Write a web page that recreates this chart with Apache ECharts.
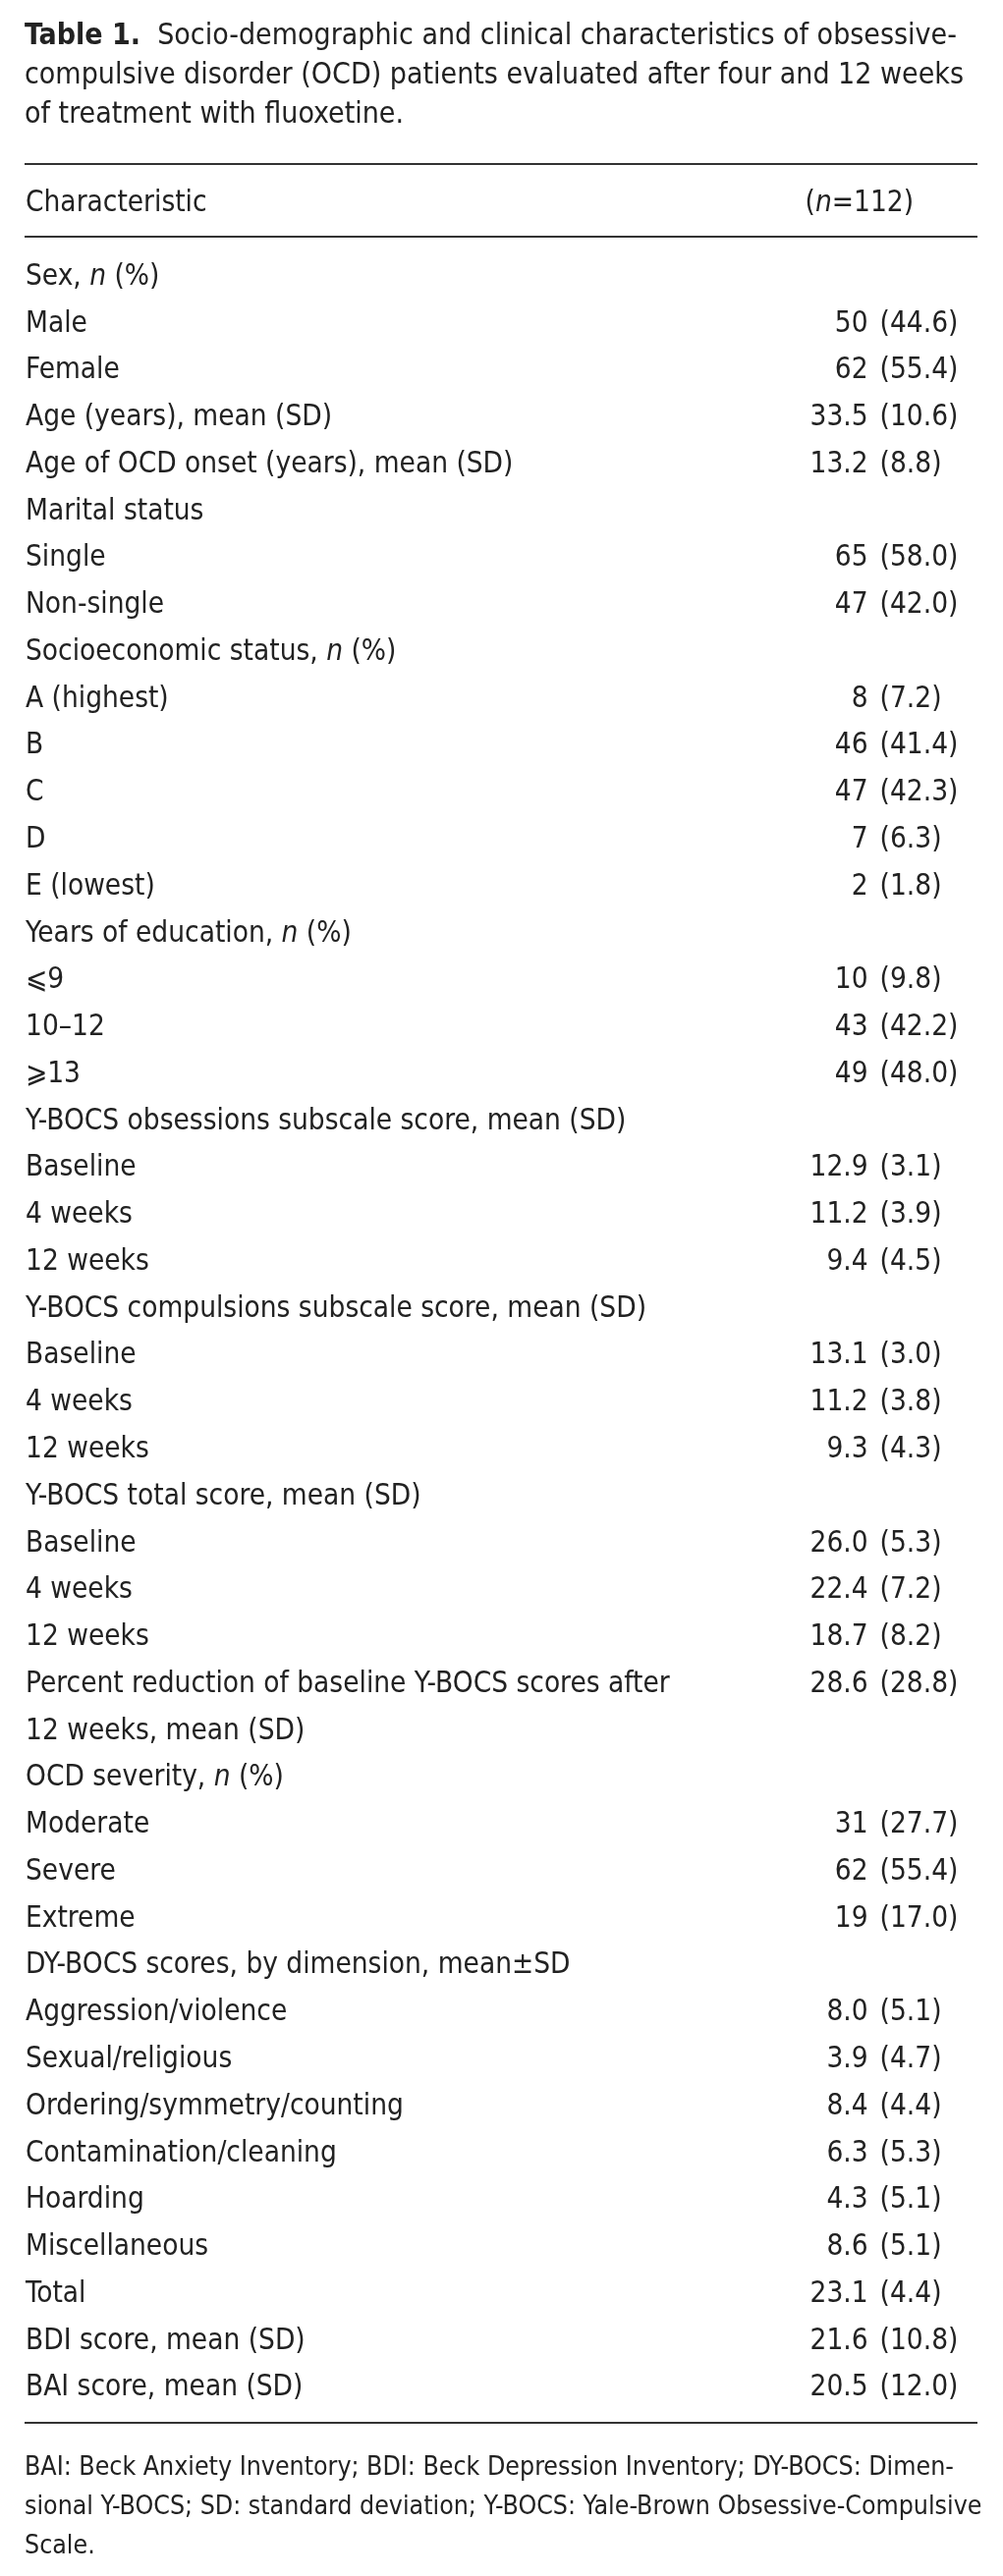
<!DOCTYPE html>
<html>
	<head>
		<meta charset="UTF-8">
		<title>Table 1 - OCD patients</title>
		<!-- echarts -->
		<script src="https://cdn.jsdelivr.net/npm/echarts@6/dist/echarts.min.js"></script>
		<style>
			html, body { margin: 0; padding: 0; background: #fff; }
			#main { width: 1021px; height: 2623px; }
		</style>
	</head>
	<body>
		<div id="main"></div>
	</body>
<script>
	// 表格行（每一行文字一个类目）
	var rowLabels = [
		'Sex, n (%)', 'Male', 'Female', 'Age (years), mean (SD)', 'Age of OCD onset (years), mean (SD)',
		'Marital status', 'Single', 'Non-single',
		'Socioeconomic status, n (%)', 'A (highest)', 'B', 'C', 'D', 'E (lowest)',
		'Years of education, n (%)', '⩽9', '10–12', '⩾13',
		'Y-BOCS obsessions subscale score, mean (SD)', 'Baseline', '4 weeks', '12 weeks',
		'Y-BOCS compulsions subscale score, mean (SD)', 'Baseline', '4 weeks', '12 weeks',
		'Y-BOCS total score, mean (SD)', 'Baseline', '4 weeks', '12 weeks',
		'Percent reduction of baseline Y-BOCS scores after', '12 weeks, mean (SD)',
		'OCD severity, n (%)', 'Moderate', 'Severe', 'Extreme',
		'DY-BOCS scores, by dimension, mean±SD', 'Aggression/violence', 'Sexual/religious',
		'Ordering/symmetry/counting', 'Contamination/cleaning', 'Hoarding', 'Miscellaneous', 'Total',
		'BDI score, mean (SD)', 'BAI score, mean (SD)'
	];
	// n 或 mean
	var mainVals = [
		'', '50', '62', '33.5', '13.2',
		'', '65', '47',
		'', '8', '46', '47', '7', '2',
		'', '10', '43', '49',
		'', '12.9', '11.2', '9.4',
		'', '13.1', '11.2', '9.3',
		'', '26.0', '22.4', '18.7',
		'28.6', '',
		'', '31', '62', '19',
		'', '8.0', '3.9', '8.4', '6.3', '4.3', '8.6', '23.1',
		'21.6', '20.5'
	];
	// 括号里的 % 或 SD
	var parenVals = [
		'', '44.6', '55.4', '10.6', '8.8',
		'', '58.0', '42.0',
		'', '7.2', '41.4', '42.3', '6.3', '1.8',
		'', '9.8', '42.2', '48.0',
		'', '3.1', '3.9', '4.5',
		'', '3.0', '3.8', '4.3',
		'', '5.3', '7.2', '8.2',
		'28.8', '',
		'', '27.7', '55.4', '17.0',
		'', '5.1', '4.7', '4.4', '5.3', '5.1', '5.1', '4.4',
		'10.8', '12.0'
	];
	var headerLeft = 'Characteristic';
	var headerRight = '({i|n}=112)';
	var captionText = '{b|Table 1.}  Socio-demographic and clinical characteristics of obsessive-\n' +
		'compulsive disorder (OCD) patients evaluated after four and 12 weeks\n' +
		'of treatment with fluoxetine.';
	var footText = 'BAI: Beck Anxiety Inventory; BDI: Beck Depression Inventory; DY-BOCS: Dimen-\n' +
		'sional Y-BOCS; SD: standard deviation; Y-BOCS: Yale-Brown Obsessive-Compulsive\n' +
		'Scale.';

	var FONT = "'Liberation Sans Narrow', 'DejaVu Sans Condensed', 'Roboto Condensed', sans-serif";
	var INK = '#222';
	var FS = 29.5;
	var COL_X = 0.897; // 括号对齐的位置

	var pts = [];
	for (var i = 0; i < rowLabels.length; i++) {
		if (mainVals[i] !== '') pts.push([COL_X, i]);
	}
	var rowIdx = rowLabels.map(function (d, i) { return String(i); });

	function valueLabel(pos, dist, fmt) {
		return {
			show: true, position: pos, distance: dist,
			fontFamily: FONT, fontSize: FS, color: INK, opacity: 1,
			textBorderWidth: 0,
			formatter: fmt
		};
	}

	var option = {
		backgroundColor: '#fff',
		animation: false,
		title: {
			text: captionText,
			left: 25,
			top: 17,
			padding: 0,
			textStyle: {
				fontFamily: FONT, fontSize: 30, fontWeight: 'normal', color: INK, lineHeight: 40,
				rich: { b: { fontFamily: FONT, fontSize: 30, fontWeight: 'bold', color: INK, lineHeight: 40 } }
			}
		},
		grid: { left: 25, right: 26, top: 258.2, bottom: 167.4 },
		xAxis: { type: 'value', min: 0, max: 1, show: false },
		yAxis: {
			type: 'category',
			inverse: true,
			data: rowIdx,
			axisLine: { show: false },
			axisTick: { show: false },
			splitLine: { show: false },
			axisLabel: {
				inside: true,
				margin: 1,
				interval: 0,
				fontFamily: FONT,
				fontSize: FS,
				color: INK,
				formatter: function (v) {
					var s = rowLabels[+v];
					return s.replace(', n (%)', ', {i|n} (%)');
				},
				rich: { i: { fontFamily: FONT, fontSize: FS, fontStyle: 'italic', color: INK } }
			}
		},
		series: [
			{
				name: 'main',
				type: 'scatter',
				data: pts,
				symbolSize: 1,
				itemStyle: { color: 'transparent' },
				emphasis: { disabled: true },
				label: valueLabel('left', 11, function (p) { return mainVals[p.value[1]]; })
			},
			{
				name: 'paren',
				type: 'scatter',
				data: pts,
				symbolSize: 1,
				itemStyle: { color: 'transparent' },
				emphasis: { disabled: true },
				label: valueLabel('right', 0, function (p) { return '(' + parenVals[p.value[1]] + ')'; })
			}
		],
		graphic: [
			{ type: 'line', shape: { x1: 25, y1: 167, x2: 995, y2: 167 }, style: { stroke: '#333', lineWidth: 2 } },
			{ type: 'line', shape: { x1: 25, y1: 241, x2: 995, y2: 241 }, style: { stroke: '#333', lineWidth: 2 } },
			{ type: 'line', shape: { x1: 25, y1: 2467, x2: 995, y2: 2467 }, style: { stroke: '#333', lineWidth: 2 } },
			{
				type: 'text', x: 26, y: 207,
				style: { text: headerLeft, fontFamily: FONT, fontSize: FS, fill: INK, verticalAlign: 'middle' }
			},
			{
				type: 'text', x: 930, y: 207,
				style: {
					text: headerRight, fontFamily: FONT, fontSize: FS, fill: INK, align: 'right', verticalAlign: 'middle',
					rich: { i: { fontFamily: FONT, fontSize: FS, fontStyle: 'italic', fill: INK } }
				}
			},
			{
				type: 'text', x: 25, y: 2493,
				style: { text: footText, fontFamily: FONT, fontSize: 26.5, fill: INK, lineHeight: 40, verticalAlign: 'top' }
			}
		]
	};

	var myChart = echarts.init(document.getElementById('main'));
	myChart.setOption(option);
</script>
</html>
